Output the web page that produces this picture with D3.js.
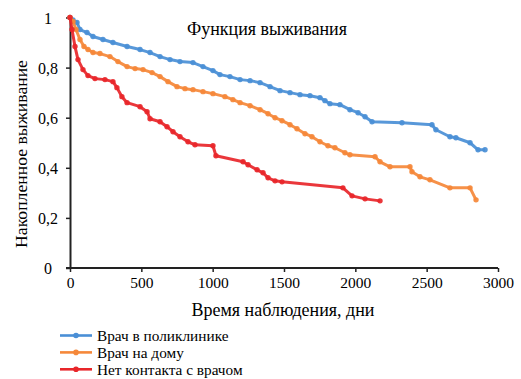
<!DOCTYPE html>
<html><head><meta charset="utf-8">
<script src="https://cdn.jsdelivr.net/npm/d3@7"></script>
<style>
body{margin:0;background:#fff;}
svg{display:block;}
</style></head>
<body><svg id="c" width="521" height="379"></svg>
<script>
const seriesNames = ["Врач в поликлинике","Врач на дому","Нет контакта с врачом"];
const seriesColors = ["#4a8fd6","#f5883a","#e8262a"];
const blueT = [0,21,49,70,119,161,231,301,400,491,561,631,701,771,862,932,1002,1051,1121,1192,1262,1332,1402,1472,1542,1612,1682,1752,1787,1822,1892,1962,2019,2068,2117,2327,2537,2565,2663,2705,2804,2860,2909];
const blueS = [1,0.99,0.98,0.952,0.94,0.924,0.912,0.90,0.884,0.872,0.86,0.844,0.832,0.824,0.82,0.804,0.788,0.772,0.764,0.752,0.748,0.74,0.724,0.708,0.70,0.692,0.688,0.68,0.668,0.656,0.652,0.632,0.62,0.604,0.584,0.58,0.572,0.552,0.524,0.52,0.50,0.472,0.472];
const orangeT = [0,21,42,70,98,126,161,210,280,336,400,456,512,575,631,687,750,806,862,932,1002,1086,1142,1192,1262,1332,1388,1437,1486,1542,1591,1647,1696,1752,1808,1857,1927,1962,2138,2173,2243,2383,2397,2453,2523,2663,2804,2846];
const orangeS = [1,0.984,0.952,0.912,0.884,0.872,0.86,0.856,0.844,0.824,0.804,0.796,0.792,0.78,0.764,0.744,0.724,0.716,0.712,0.704,0.696,0.684,0.672,0.66,0.648,0.632,0.616,0.60,0.588,0.572,0.556,0.536,0.524,0.504,0.488,0.48,0.46,0.452,0.444,0.424,0.404,0.404,0.384,0.364,0.352,0.32,0.32,0.272];
const redT = [0,14,35,56,91,126,175,245,301,329,364,400,491,540,561,631,680,722,771,827,876,1002,1023,1213,1248,1311,1353,1388,1437,1486,1913,1977,2068,2173];
const redS = [1,0.952,0.884,0.832,0.792,0.768,0.756,0.752,0.744,0.72,0.684,0.66,0.644,0.624,0.596,0.584,0.564,0.544,0.524,0.504,0.492,0.488,0.448,0.424,0.412,0.392,0.38,0.36,0.348,0.344,0.32,0.288,0.276,0.268];
const xTicks = [0,500,1000,1500,2000,2500,3000];
const yTicks = [0,0.2,0.4,0.6,0.8,1];
const yTickLabels = ["0","0,2","0,4","0,6","0,8","1"];
const title = "Функция выживания";
const xLabel = "Время наблюдения, дни";
const yLabel = "Накопленное выживание";

const FF = "'Liberation Serif', 'Times New Roman', serif";
const svg = d3.select("#c");
const x = d3.scaleLinear().domain([0,3000]).range([70,498]);
const y = d3.scaleLinear().domain([0,1]).range([268,17.5]);

function fit(sel, w){
  const l = sel.node().getComputedTextLength();
  const fs = parseFloat(sel.attr("font-size"));
  if (l > 0) sel.attr("font-size", (fs*w/l).toFixed(2));
}

const xa = svg.append("g").attr("transform","translate(0,268)")
  .call(d3.axisBottom(x).tickValues(xTicks).tickSize(4).tickSizeOuter(0).tickPadding(5).tickFormat(d3.format("d")));
const ya = svg.append("g").attr("transform","translate(70,0)")
  .call(d3.axisLeft(y).tickValues(yTicks).tickSize(4).tickSizeOuter(0).tickPadding(0).tickFormat((d,i)=>yTickLabels[i]));
[xa,ya].forEach(a=>{
  a.attr("font-family",FF).attr("font-size",15);
  a.selectAll("path").attr("stroke","#222").attr("stroke-width",2);
  a.selectAll("line").attr("stroke","#222").attr("stroke-width",1.5);
  a.selectAll("text").attr("font-family",FF).attr("font-size",15.5).attr("fill","#000");
});
ya.selectAll("text").attr("text-anchor","middle").attr("x",-22).attr("dy","0.35em").attr("font-size",16);
xa.select(".domain").attr("d","M66,0H498");

const data = [[blueT,blueS],[orangeT,orangeS],[redT,redS]];
const line = d3.line().x(d=>x(d[0])).y(d=>y(d[1]));
data.forEach((s,k)=>{
  const pts = s[0].map((t,i)=>[t,s[1][i]]);
  svg.append("path").datum(pts).attr("d",line).attr("fill","none")
    .attr("stroke",seriesColors[k]).attr("stroke-width",3).attr("stroke-linejoin","round").attr("opacity",0.92);
  svg.append("g").selectAll("circle").data(pts).join("circle")
    .attr("cx",d=>x(d[0])).attr("cy",d=>y(d[1])).attr("r",2.7).attr("fill",seriesColors[k]).attr("opacity",0.92);
});

const t1 = svg.append("text").attr("x",267).attr("y",35).attr("text-anchor","middle")
  .attr("font-family",FF).attr("font-size",18).text(title);
fit(t1,160);
const t2 = svg.append("text").attr("x",283).attr("y",316).attr("text-anchor","middle")
  .attr("font-family",FF).attr("font-size",17).text(xLabel);
fit(t2,183);
const t3 = svg.append("text").attr("transform","translate(27,154) rotate(-90)").attr("text-anchor","middle")
  .attr("font-family",FF).attr("font-size",17).text(yLabel);
fit(t3,188);

const lg = svg.append("g");
seriesNames.forEach((n,i)=>{
  const yy = 335.5 + i*16.9;
  lg.append("line").attr("x1",60).attr("x2",92).attr("y1",yy).attr("y2",yy).attr("stroke",seriesColors[i]).attr("stroke-width",2.6);
  lg.append("circle").attr("cx",76).attr("cy",yy).attr("r",2.8).attr("fill",seriesColors[i]);
  lg.append("text").attr("x",97).attr("y",yy+5.3).attr("font-family",FF).attr("font-size",15.3).text(n);
});
</script></body></html>
